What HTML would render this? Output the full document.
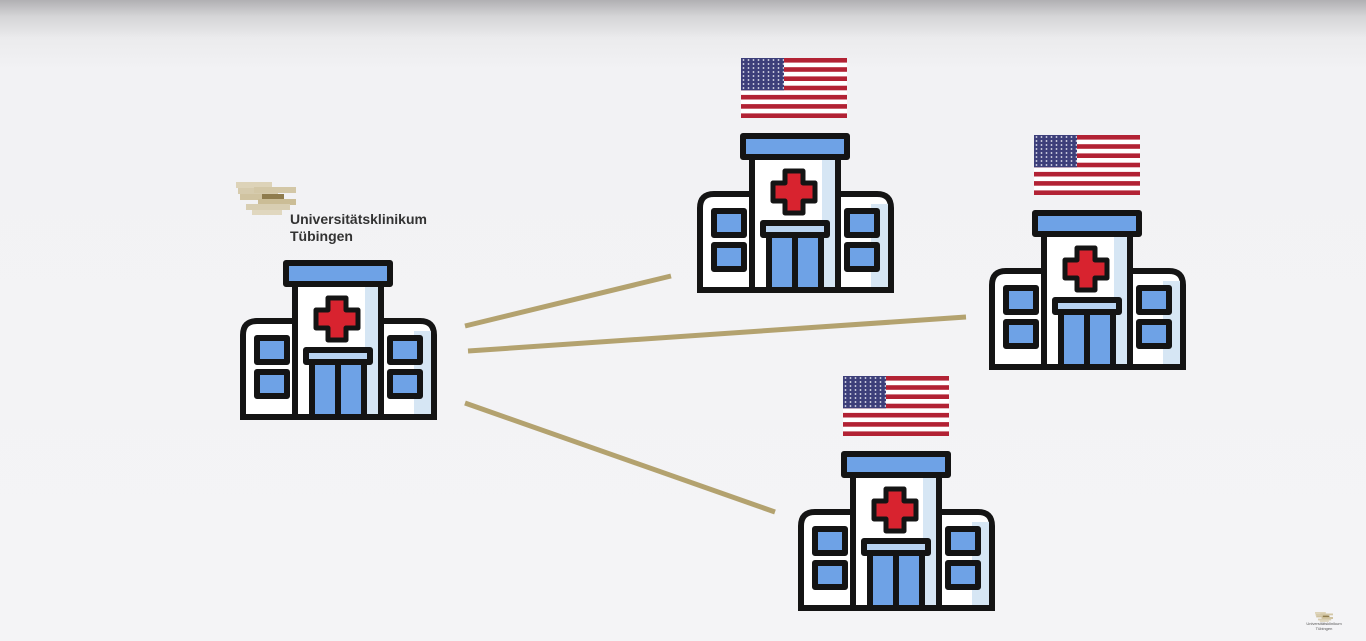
<!DOCTYPE html>
<html><head><meta charset="utf-8">
<style>
html,body{margin:0;padding:0;}
body{width:1366px;height:641px;overflow:hidden;background:linear-gradient(#b1b0b3 0px,#d4d4d6 16px,#ebebed 38px,#f2f2f4 70px,#f4f4f6 100%);font-family:"Liberation Sans",sans-serif;}
svg{position:absolute;left:0;top:0;}
</style></head><body>
<svg width="1366" height="641" viewBox="0 0 1366 641" xmlns="http://www.w3.org/2000/svg">
<defs>
  <pattern id="stars" x="0" y="0" width="5" height="4" patternUnits="userSpaceOnUse">
    <rect width="5" height="4" fill="#3d3f7a"/>
    <circle cx="2.5" cy="2" r="0.9" fill="#e6e6f0"/>
  </pattern>
  <g id="flag">
    <rect x="0" y="0" width="106" height="60" fill="#ffffff"/>
    <g fill="#b22234">
      <rect y="0" width="106" height="4.6"/>
      <rect y="9.2" width="106" height="4.6"/>
      <rect y="18.4" width="106" height="4.6"/>
      <rect y="27.7" width="106" height="4.6"/>
      <rect y="36.9" width="106" height="4.6"/>
      <rect y="46.1" width="106" height="4.6"/>
      <rect y="55.4" width="106" height="4.6"/>
    </g>
    <rect x="0" y="0" width="43" height="32.3" fill="url(#stars)"/>
  </g>
  <g id="hosp" stroke="#141414" stroke-width="6" stroke-linejoin="round">
    <path d="M55 60 H17 Q3 60 3 74 V156 H55 Z" fill="#ffffff"/>
    <path d="M141 60 H180 Q194 60 194 74 V156 H141 Z" fill="#ffffff"/>
    <rect x="174" y="70" width="17" height="84" fill="#d6e6f4" stroke="none"/>
    <rect x="55" y="23" width="86" height="133" fill="#ffffff"/>
    <rect x="125" y="26" width="13" height="128" fill="#d6e6f4" stroke="none"/>
    <rect x="46" y="2" width="104" height="21" fill="#6ea2e6"/>
    <path d="M88 37 H106 V49 H118 V67 H106 V79 H88 V67 H76 V49 H88 Z" fill="#d8232f" stroke-width="5"/>
    <rect x="17" y="77" width="30" height="24" fill="#6ea2e6"/>
    <rect x="17" y="111" width="30" height="24" fill="#6ea2e6"/>
    <rect x="150" y="77" width="30" height="24" fill="#6ea2e6"/>
    <rect x="150" y="111" width="30" height="24" fill="#6ea2e6"/>
    <rect x="66" y="89" width="64" height="12" fill="#b9d4f2"/>
    <rect x="72" y="101" width="52" height="55" fill="#6ea2e6"/>
    <line x1="98" y1="101" x2="98" y2="156"/>
    <line x1="0" y1="156" x2="197" y2="156"/>
  </g>
  <g id="logo">
    <rect x="0" y="0" width="36" height="6" fill="#ddd3b8"/>
    <rect x="2" y="6" width="40" height="6" fill="#d6cbad"/>
    <rect x="18" y="5" width="42" height="6" fill="#d3c7a6"/>
    <rect x="4" y="12" width="40" height="6" fill="#d0c3a0"/>
    <rect x="26" y="12" width="22" height="5" fill="#8f7c4d"/>
    <rect x="22" y="17" width="38" height="6" fill="#cbbd96"/>
    <rect x="10" y="22" width="44" height="6" fill="#d8ceb2"/>
    <rect x="16" y="28" width="30" height="5" fill="#e0d7bf"/>
  </g>
</defs>

<g stroke="#b3a26f" stroke-width="5" stroke-linecap="butt">
  <line x1="465" y1="326" x2="671" y2="276"/>
  <line x1="468" y1="351" x2="966" y2="317"/>
  <line x1="465" y1="403" x2="775" y2="512"/>
</g>

<use href="#logo" x="236" y="182"/>
<text x="290" y="224" font-family="Liberation Sans, sans-serif" font-size="14" font-weight="bold" fill="#333">Universitätsklinikum</text>
<text x="290" y="241" font-family="Liberation Sans, sans-serif" font-size="14" font-weight="bold" fill="#333">Tübingen</text>

<use href="#hosp" x="240" y="261"/>
<use href="#flag" x="741" y="58"/>
<use href="#hosp" x="697" y="134"/>
<use href="#flag" x="1034" y="135"/>
<use href="#hosp" x="989" y="211"/>
<use href="#flag" x="843" y="376"/>
<use href="#hosp" x="798" y="452"/>

<use href="#logo" transform="translate(1315,612) scale(0.3)"/>
<text x="1324" y="625" text-anchor="middle" font-size="4" fill="#555">Universitätsklinikum</text>
<text x="1324" y="630" text-anchor="middle" font-size="4" fill="#555">Tübingen</text>
</svg>
</body></html>
